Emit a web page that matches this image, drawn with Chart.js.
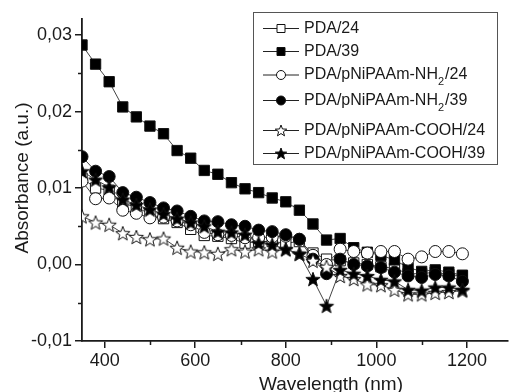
<!DOCTYPE html>
<html lang="en">
<head>
<meta charset="UTF-8">
<title>Absorbance spectra</title>
<script src="https://cdn.jsdelivr.net/npm/chart.js"></script>
<style>
  html, body { margin: 0; padding: 0; background: #fff; }
</style>
</head>
<body>
<canvas id="absChart" width="516" height="392"></canvas>
<script>
// wavelengths (nm) of the plotted markers
const wavelengths = [350, 380, 410, 440, 470, 500, 530, 560, 590, 620, 650, 680, 710, 740, 770,
                     800, 830, 860, 890, 920, 950, 980, 1010, 1040, 1070, 1100, 1130, 1160, 1190];

const pda24 = [0.0113, 0.0100, 0.0097, 0.0080, 0.0075, 0.0066, 0.0060, 0.0055, 0.0046, 0.0038, 0.0037, 0.0034, 0.0028, 0.0030, 0.0030,
               0.0028, 0.0030, 0.0015, 0.0007, 0.0005, 0.0002, 0.0000, -0.0003, -0.0005, -0.0012, -0.0012, -0.0010, -0.0013, -0.0015];
const pda39 = [0.0287, 0.0262, 0.0239, 0.0206, 0.0193, 0.0181, 0.0171, 0.0149, 0.0139, 0.0123, 0.0118, 0.0107, 0.0099, 0.0094, 0.0087,
               0.0082, 0.0071, 0.0053, 0.0032, 0.0034, 0.0022, 0.0016, 0.0012, 0.0006, -0.0004, -0.0009, -0.0007, -0.0010, -0.0014];
const nh2_24 = [0.0109, 0.0086, 0.0087, 0.0071, 0.0067, 0.0061, 0.0062, 0.0057, 0.0052, 0.0042, 0.0039, 0.0038, 0.0035, 0.0035, 0.0036,
                0.0037, 0.0033, 0.0012, 0.0000, 0.0020, 0.0017, 0.0015, 0.0017, 0.0017, 0.0007, 0.0010, 0.0017, 0.0017, 0.0014];
const nh2_39 = [0.0141, 0.0122, 0.0115, 0.0094, 0.0088, 0.0081, 0.0074, 0.0070, 0.0063, 0.0057, 0.0056, 0.0052, 0.0050, 0.0045, 0.0043,
                0.0039, 0.0033, 0.0007, -0.0012, 0.0007, 0.0000, -0.0002, -0.0004, -0.0010, -0.0015, -0.0017, -0.0013, -0.0015, -0.0022];
const cooh24 = [0.0063, 0.0055, 0.0052, 0.0041, 0.0036, 0.0033, 0.0034, 0.0022, 0.0017, 0.0016, 0.0014, 0.0020, 0.0017, 0.0020, 0.0017,
                0.0020, 0.0014, 0.0005, -0.0003, -0.0015, -0.0019, -0.0026, -0.0027, -0.0033, -0.0039, -0.0039, -0.0037, -0.0036, -0.0034];
const cooh39 = [0.0122, 0.0111, 0.0101, 0.0085, 0.0078, 0.0072, 0.0066, 0.0060, 0.0055, 0.0050, 0.0043, 0.0042, 0.0039, 0.0028, 0.0026,
                0.0020, 0.0014, -0.0019, -0.0054, -0.0007, -0.0012, -0.0015, -0.0020, -0.0022, -0.0033, -0.0034, -0.0030, -0.0030, -0.0033];

const seriesLabels = ['PDA/24', 'PDA/39', 'PDA/pNiPAAm-NH|2|/24', 'PDA/pNiPAAm-NH|2|/39', 'PDA/pNiPAAm-COOH/24', 'PDA/pNiPAAm-COOH/39'];
const seriesData = [pda24, pda39, nh2_24, nh2_39, cooh24, cooh39];
const markerKind = ['square', 'square', 'circle', 'circle', 'star', 'star'];
const markerFill = ['#fff', '#000', '#fff', '#000', '#fff', '#000'];

const yMinor = [-0.005, 0.005, 0.015, 0.025];
const xMinor = [500, 700, 900, 1100];

const FONT = 'Arial, "Liberation Sans", sans-serif';
const INK = '#1a1a1a';

function starPath(ctx, cx, cy, R) {
  const r = R * 0.42;
  ctx.beginPath();
  for (let i = 0; i < 10; i++) {
    const rad = i % 2 ? r : R;
    const a = -Math.PI / 2 + i * Math.PI / 5;
    ctx.lineTo(cx + rad * Math.cos(a), cy + rad * Math.sin(a));
  }
  ctx.closePath();
}

function makeStar(R, fill) {
  const c = document.createElement('canvas');
  const s = Math.ceil(R * 2 + 3);
  c.width = s; c.height = s;
  const g = c.getContext('2d');
  starPath(g, s / 2, s / 2 + R * 0.1, R);
  g.fillStyle = fill; g.fill();
  g.strokeStyle = '#111'; g.lineWidth = 1; g.stroke();
  return c;
}

const datasets = seriesData.map((d, i) => {
  const kind = markerKind[i];
  let style = kind === 'square' ? 'rect' : 'circle';
  if (kind === 'star') style = makeStar(7.5, markerFill[i]);
  return {
    label: seriesLabels[i],
    data: wavelengths.map((w, j) => ({ x: w, y: d[j] })),
    borderColor: '#444',
    borderWidth: 1,
    pointStyle: style,
    pointRadius: kind === 'square' ? 7.3 : 6,
    pointBackgroundColor: markerFill[i],
    pointBorderColor: '#111',
    pointBorderWidth: 1,
    tension: 0,
    order: seriesData.length - i
  };
});

// legend box, minor ticks and axis titles
const decor = {
  id: 'decor',
  afterDraw(chart) {
    const ctx = chart.ctx;
    const xs = chart.scales.x, ys = chart.scales.y;
    ctx.save();
    ctx.strokeStyle = INK;
    ctx.lineWidth = 1.5;
    yMinor.forEach(v => {
      const p = Math.round(ys.getPixelForValue(v)) + 0.5;
      ctx.beginPath(); ctx.moveTo(chart.chartArea.left - 4, p); ctx.lineTo(chart.chartArea.left, p); ctx.stroke();
    });
    xMinor.forEach(v => {
      const p = Math.round(xs.getPixelForValue(v)) + 0.5;
      ctx.beginPath(); ctx.moveTo(p, chart.chartArea.bottom); ctx.lineTo(p, chart.chartArea.bottom + 4); ctx.stroke();
    });

    // axis titles
    ctx.fillStyle = INK;
    ctx.font = '19px ' + FONT;
    ctx.textAlign = 'center';
    ctx.textBaseline = 'alphabetic';
    ctx.fillText('Wavelength (nm)', 331, 390);
    ctx.save();
    ctx.translate(28, 178);
    ctx.rotate(-Math.PI / 2);
    ctx.fillText('Absorbance (a.u.)', 0, 0);
    ctx.restore();

    // legend
    const bx = 253.5, by = 12.5, bw = 244, bh = 152;
    ctx.fillStyle = '#fff';
    ctx.fillRect(bx, by, bw, bh);
    ctx.strokeStyle = '#555';
    ctx.lineWidth = 1;
    ctx.strokeRect(bx, by, bw, bh);
    const rows = [28.5, 51.5, 75, 100.5, 130.5, 153.5];
    rows.forEach((ry, i) => {
      ctx.strokeStyle = '#222';
      ctx.lineWidth = 1;
      ctx.beginPath(); ctx.moveTo(263, ry); ctx.lineTo(299, ry); ctx.stroke();
      const kind = markerKind[i];
      ctx.fillStyle = markerFill[i];
      ctx.strokeStyle = '#111';
      if (kind === 'square') {
        ctx.beginPath(); ctx.rect(277, ry - 4, 8, 8);
      } else if (kind === 'circle') {
        ctx.beginPath(); ctx.arc(281, ry, 4.5, 0, Math.PI * 2);
      } else {
        starPath(ctx, 281, ry + 0.5, 6);
      }
      ctx.fill(); ctx.stroke();

      // label text, segments between | are subscripts
      const parts = seriesLabels[i].split('|');
      let tx = 304;
      ctx.fillStyle = INK;
      ctx.textAlign = 'left';
      ctx.textBaseline = 'middle';
      parts.forEach((t, k) => {
        const sub = k % 2 === 1;
        ctx.font = (sub ? '11px ' : '16px ') + FONT;
        ctx.fillText(t, tx, sub ? ry + 7 : ry);
        tx += ctx.measureText(t).width + (sub ? 1 : 0);
      });
    });
    ctx.restore();
  }
};

new Chart(document.getElementById('absChart'), {
  type: 'line',
  data: { datasets: datasets },
  options: {
    responsive: false,
    animation: false,
    layout: { padding: { top: 19, right: 2, left: 0, bottom: 0 } },
    plugins: { legend: { display: false }, tooltip: { enabled: false } },
    scales: {
      x: {
        type: 'linear',
        min: 350,
        max: 1290,
        afterFit(scale) { scale.height = 51; },
        border: { display: true, color: INK, width: 1.8 },
        grid: { drawOnChartArea: false, tickLength: 7, color: INK, lineWidth: 1.5 },
        ticks: {
          stepSize: 200,
          includeBounds: false,
          padding: 2,
          color: INK,
          font: { family: FONT, size: 18 },
          maxRotation: 0,
          callback: v => String(v)
        }
      },
      y: {
        type: 'linear',
        min: -0.01,
        max: 0.0321,
        afterFit(scale) { scale.width = 82; },
        border: { display: true, color: INK, width: 1.8 },
        grid: { drawOnChartArea: false, tickLength: 7, color: INK, lineWidth: 1.5 },
        ticks: {
          stepSize: 0.01,
          includeBounds: false,
          padding: 3,
          color: INK,
          font: { family: FONT, size: 18 },
          callback: v => v.toFixed(2).replace('.', ',')
        }
      }
    }
  },
  plugins: [decor]
});
</script>
</body>
</html>
